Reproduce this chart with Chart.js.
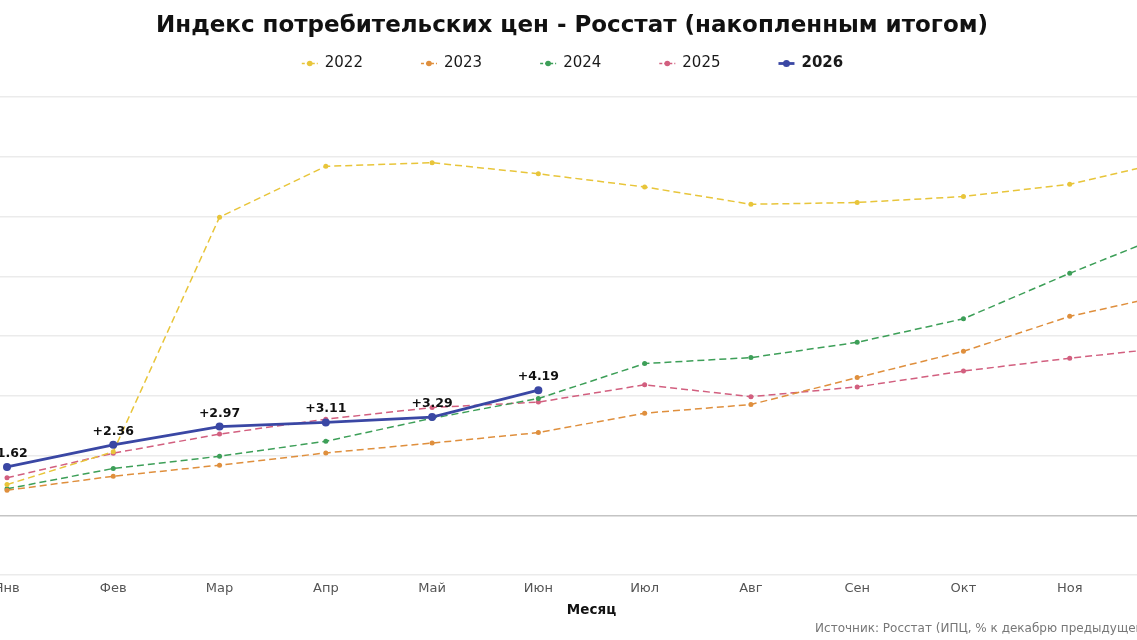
<!DOCTYPE html>
<html lang="ru">
<head>
<meta charset="utf-8">
<title>Индекс потребительских цен</title>
<script src="https://cdn.jsdelivr.net/npm/chart.js@4.4.1/dist/chart.umd.min.js"></script>
<style>
  html, body { margin: 0; padding: 0; background: #fff; overflow: hidden; }
  #wrap { position: absolute; left: -50px; top: 0; width: 1245px; height: 640px; }
</style>
</head>
<body>
<div id="wrap"><canvas id="cpiChart"></canvas></div>
<script>
// months on the x axis
const months = ['Янв', 'Фев', 'Мар', 'Апр', 'Май', 'Июн', 'Июл', 'Авг', 'Сен', 'Окт', 'Ноя', 'Дек'];

// accumulated CPI, % to December of the previous year
const cpi2022 = [1.03, 2.13, 9.98, 11.68, 11.80, 11.43, 10.99, 10.41, 10.47, 10.67, 11.08, 11.91];
const cpi2023 = [0.84, 1.31, 1.68, 2.09, 2.42, 2.77, 3.42, 3.71, 4.61, 5.49, 6.66, 7.45];
const cpi2024 = [0.89, 1.57, 1.98, 2.48, 3.25, 3.91, 5.08, 5.28, 5.79, 6.58, 8.10, 9.53];
const cpi2025 = [1.26, 2.08, 2.72, 3.22, 3.61, 3.79, 4.37, 3.97, 4.30, 4.83, 5.26, 5.64];
const cpi2026 = [1.62, 2.36, 2.97, 3.11, 3.29, 4.19];

const yTicks = [-2, 0, 2, 4, 6, 8, 10, 12, 14];

const FONT = '"DejaVu Sans", sans-serif';

function dashed(label, data, color) {
  return {
    label: label,
    data: data,
    borderColor: color,
    backgroundColor: color,
    pointBackgroundColor: color,
    pointBorderColor: color,
    borderWidth: 1.5,
    borderDash: [7, 4],
    pointRadius: 2.5,
    pointBorderWidth: 0,
    tension: 0,
    order: 1
  };
}

// legend: short line with a dot, last year in bold
const lineLegend = {
  id: 'lineLegend',
  afterDraw(chart) {
    const ctx = chart.ctx;
    const sets = chart.data.datasets;
    const y = 63.5;
    const markW = 16, gapText = 7, gapItem = 58;
    ctx.save();
    const fonts = sets.map(ds => (ds.order === 0 ? 'bold ' : '') + '15px ' + FONT);
    const widths = sets.map((ds, i) => { ctx.font = fonts[i]; return ctx.measureText(ds.label).width; });
    const total = widths.reduce((a, w) => a + markW + gapText + w, 0) + gapItem * (sets.length - 1);
    let x = (chart.width - total) / 2;
    sets.forEach((ds, i) => {
      ctx.strokeStyle = ds.borderColor;
      ctx.lineWidth = ds.borderWidth;
      ctx.setLineDash(ds.borderDash ? [3, 2] : []);
      ctx.beginPath();
      ctx.moveTo(x, y);
      ctx.lineTo(x + markW, y);
      ctx.stroke();
      ctx.setLineDash([]);
      ctx.fillStyle = ds.borderColor;
      ctx.beginPath();
      ctx.arc(x + markW / 2, y, ds.order === 0 ? 3.5 : 2.8, 0, Math.PI * 2);
      ctx.fill();
      ctx.font = fonts[i];
      ctx.fillStyle = '#1a1a1a';
      ctx.textAlign = 'left';
      ctx.textBaseline = 'middle';
      ctx.fillText(ds.label, x + markW + gapText, y);
      x += markW + gapText + widths[i] + gapItem;
    });
    ctx.restore();
  }
};

// value labels over the 2026 points
const pointLabels = {
  id: 'pointLabels',
  afterDatasetsDraw(chart) {
    const ctx = chart.ctx;
    chart.data.datasets.forEach((ds, di) => {
      if (ds.order !== 0) return;
      const meta = chart.getDatasetMeta(di);
      ctx.save();
      ctx.font = 'bold 12.5px ' + FONT;
      ctx.fillStyle = '#111';
      ctx.textAlign = 'center';
      ctx.textBaseline = 'bottom';
      meta.data.forEach((pt, i) => {
        ctx.fillText('+' + ds.data[i].toFixed(2), pt.x, pt.y - 7);
      });
      ctx.restore();
    });
  }
};

new Chart(document.getElementById('cpiChart'), {
  type: 'line',
  data: {
    labels: months,
    datasets: [
      dashed('2022', cpi2022, '#e8c53a'),
      dashed('2023', cpi2023, '#df8f3d'),
      dashed('2024', cpi2024, '#3d9f58'),
      dashed('2025', cpi2025, '#d25f7f'),
      {
        label: '2026',
        data: cpi2026,
        borderColor: '#3a47a4',
        backgroundColor: '#3a47a4',
        pointBackgroundColor: '#3a47a4',
        pointBorderColor: '#3a47a4',
        borderWidth: 2.8,
        pointRadius: 4,
        pointBorderWidth: 0,
        tension: 0,
        order: 0
      }
    ]
  },
  options: {
    responsive: true,
    maintainAspectRatio: false,
    animation: false,
    layout: { padding: { left: 7, right: 8, top: 0, bottom: 0 } },
    plugins: {
      legend: { display: false },
      tooltip: { enabled: false },
      title: {
        display: true,
        text: 'Индекс потребительских цен - Росстат (накопленным итогом)',
        color: '#111',
        font: { family: FONT, size: 23, weight: 'bold' },
        padding: { top: 12, bottom: 57.4 }
      },
      subtitle: {
        display: true,
        position: 'bottom',
        align: 'end',
        text: 'Источник: Росстат (ИПЦ, % к декабрю предыдущего года)',
        color: '#777',
        font: { family: FONT, size: 12 },
        padding: { top: 4, bottom: 4 }
      }
    },
    scales: {
      x: {
        grid: { display: false, drawTicks: false },
        border: { display: false },
        ticks: { color: '#555', font: { family: FONT, size: 13 }, padding: 6, autoSkip: false, maxRotation: 0 },
        title: {
          display: true,
          text: 'Месяц',
          color: '#111',
          font: { family: FONT, size: 13.5, weight: 'bold', lineHeight: 1.1 },
          padding: { top: 0, bottom: 0 }
        }
      },
      y: {
        min: yTicks[0],
        max: yTicks[yTicks.length - 1],
        afterBuildTicks: scale => { scale.ticks = yTicks.map(v => ({ value: v })); },
        afterFit: scale => { scale.width = 50; },
        grid: {
          color: c => (c.tick && c.tick.value === 0 ? '#c4c4c4' : '#ebebeb'),
          lineWidth: 1.5
        },
        border: { display: false },
        ticks: { color: '#666', font: { family: FONT, size: 12 } }
      }
    }
  },
  plugins: [lineLegend, pointLabels]
});
</script>
</body>
</html>
